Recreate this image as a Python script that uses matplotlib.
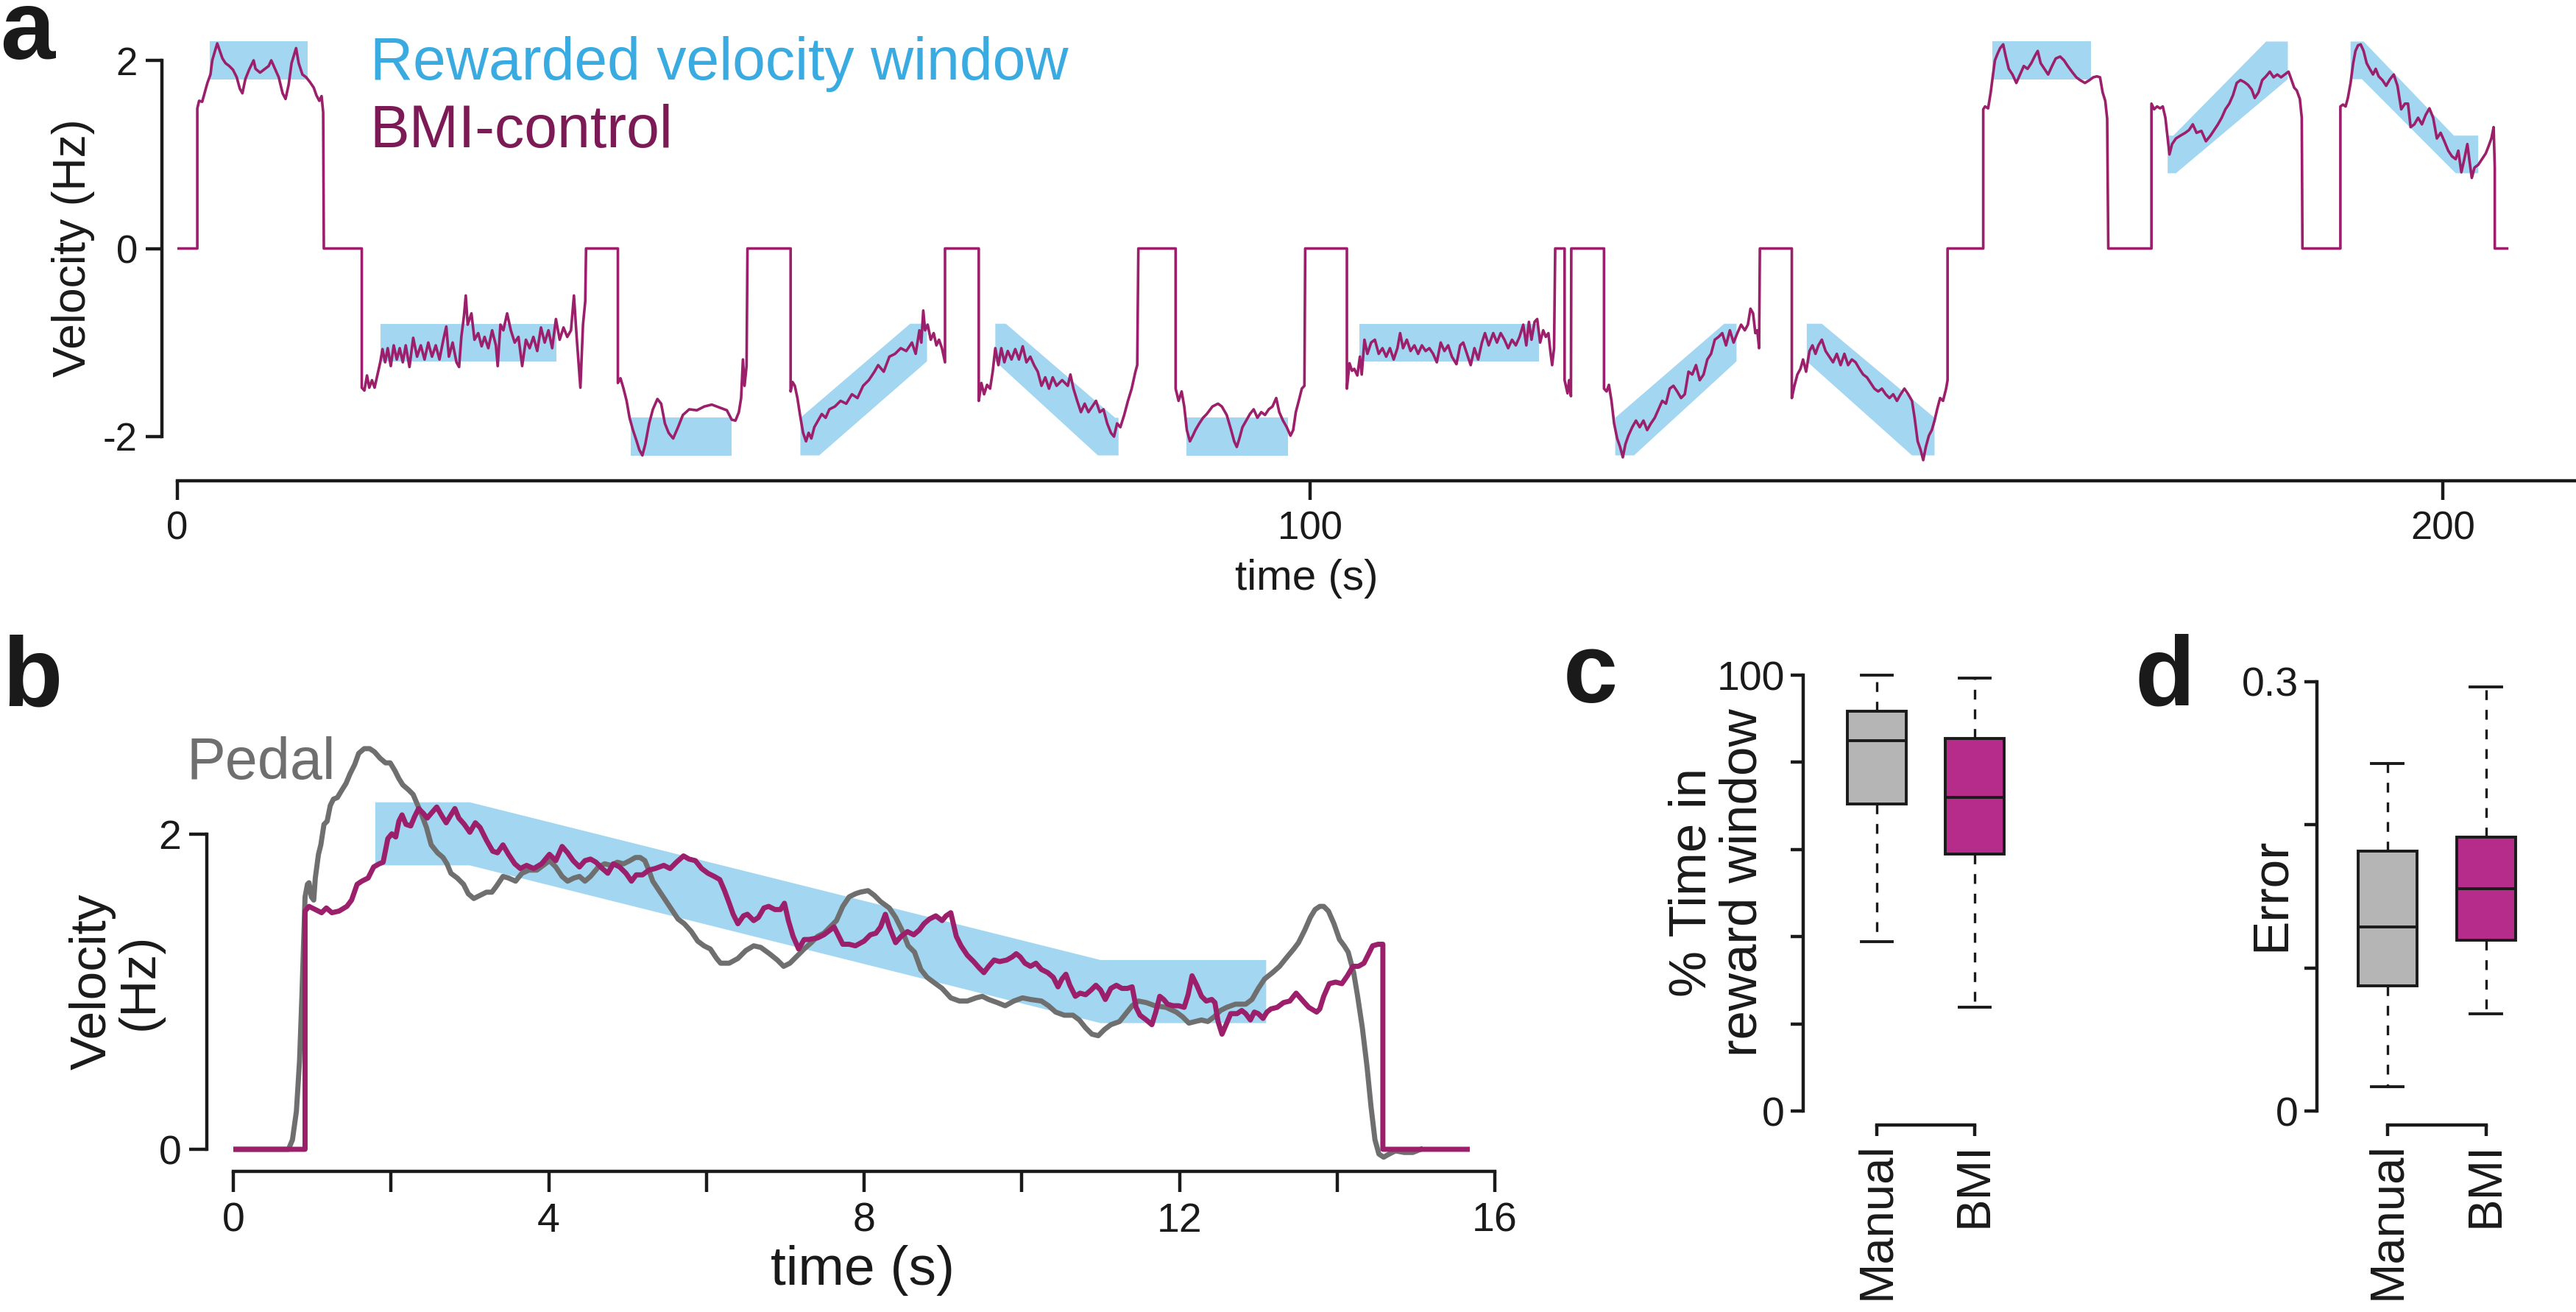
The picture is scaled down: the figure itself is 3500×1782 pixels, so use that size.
import numpy as np
import matplotlib
matplotlib.use("Agg")
import matplotlib.pyplot as plt

plt.rcParams['font.family'] = ['Liberation Sans', 'DejaVu Sans']
plt.rcParams['axes.unicode_minus'] = False

# ---------------- data ----------------
# panel a: BMI-controlled velocity, (time s, velocity Hz)
bmi_a = [
    (0, 0), (1.76, 0),
    (1.76, 1.49), (1.92, 1.57), (2.19, 1.56), (2.42, 1.66), (2.65, 1.76), (2.92, 1.85), (3.08, 2.0), (3.32, 2.10),
    (3.52, 2.18), (3.75, 2.10), (3.98, 2.02), (4.25, 1.97), (4.58, 1.94), (4.91, 1.90), (5.24, 1.82), (5.51, 1.70),
    (5.74, 1.65), (6.0, 1.80), (6.33, 1.90), (6.73, 2.00), (6.90, 1.91), (7.30, 1.87), (7.63, 1.90), (8.06, 1.94),
    (8.29, 2.0), (8.62, 1.91), (8.95, 1.82), (9.29, 1.65), (9.55, 1.59), (9.82, 1.74), (10.08, 1.97), (10.48, 2.13),
    (10.71, 1.97), (11.04, 1.85), (11.37, 1.82), (11.70, 1.77), (12.04, 1.71), (12.27, 1.63), (12.53, 1.57),
    (12.73, 1.62), (12.87, 1.45), (12.93, 0), (16.28, 0),
    (16.28, -1.48), (16.51, -1.51), (16.74, -1.35), (16.94, -1.48), (17.18, -1.40), (17.41, -1.48), (17.67, -1.34),
    (17.91, -1.21), (18.11, -1.07), (18.34, -1.21), (18.57, -1.06), (18.84, -1.25), (19.10, -1.03), (19.37, -1.18),
    (19.63, -1.06), (19.90, -1.21), (20.16, -1.03), (20.49, -1.26), (20.82, -0.95), (21.16, -1.15), (21.49, -1.03),
    (21.82, -1.18), (22.15, -1.0), (22.48, -1.15), (22.81, -1.03), (23.14, -1.18), (23.48, -0.97), (23.74, -0.83),
    (23.97, -1.15), (24.30, -1.0), (24.64, -1.21), (24.87, -1.26), (25.07, -0.94), (25.30, -0.72), (25.46, -0.50),
    (25.63, -0.81), (25.96, -0.69), (26.23, -0.97), (26.56, -0.90), (26.86, -1.04), (27.12, -0.94), (27.45, -1.06),
    (27.79, -0.87), (28.12, -1.03), (28.28, -1.25), (28.52, -0.81), (28.78, -0.87), (29.11, -0.69), (29.44, -0.87),
    (29.78, -1.0), (30.11, -0.94), (30.44, -1.25), (30.77, -0.97), (31.10, -1.06), (31.43, -0.94), (31.77, -1.09),
    (32.10, -0.84), (32.43, -1.0), (32.76, -0.87), (33.09, -1.06), (33.42, -0.75), (33.75, -0.97), (34.09, -0.84),
    (34.42, -0.94), (34.75, -0.87), (35.01, -0.50), (35.25, -0.94), (35.58, -1.48), (35.81, -0.81), (36.01, -0.56),
    (36.08, 0), (38.89, 0),
    (38.89, -1.43), (39.12, -1.38), (39.39, -1.49), (39.66, -1.62), (39.92, -1.80), (40.22, -1.93), (40.55, -2.05),
    (40.78, -2.14), (41.05, -2.20), (41.31, -2.08), (41.65, -1.86), (41.98, -1.71), (42.38, -1.60), (42.71, -1.65),
    (43.04, -1.86), (43.37, -1.96), (43.77, -2.02), (44.20, -1.90), (44.63, -1.77), (45.19, -1.71), (45.86, -1.72),
    (46.52, -1.68), (47.18, -1.66), (47.85, -1.69), (48.51, -1.72), (48.94, -1.82), (49.27, -1.83), (49.57, -1.74),
    (49.77, -1.59), (49.93, -1.18), (50.07, -1.46), (50.25, -1.25), (50.33, 0), (54.14, 0),
    (54.14, -1.52), (54.31, -1.42), (54.51, -1.46), (54.74, -1.59), (54.97, -1.77), (55.24, -1.96), (55.50, -2.05),
    (55.73, -1.96), (55.97, -2.02), (56.23, -1.90), (56.56, -1.83), (56.89, -1.76), (57.23, -1.80), (57.56, -1.71),
    (58.05, -1.68), (58.55, -1.62), (59.05, -1.65), (59.55, -1.55), (60.04, -1.59), (60.54, -1.46), (61.04, -1.40),
    (61.54, -1.31), (61.87, -1.24), (62.36, -1.31), (62.86, -1.15), (63.36, -1.12), (63.86, -1.06), (64.35, -1.09),
    (64.85, -1.0), (65.18, -1.12), (65.51, -0.87), (65.68, -1.0), (65.85, -0.66), (66.01, -0.87), (66.24, -0.81),
    (66.51, -0.97), (66.77, -0.90), (67.01, -1.03), (67.24, -0.97), (67.50, -1.06), (67.77, -1.21), (67.77, 0),
    (70.75, 0),
    (70.75, -1.62), (70.98, -1.43), (71.22, -1.55), (71.48, -1.45), (71.75, -1.49), (71.98, -1.31), (72.21, -1.06),
    (72.48, -1.24), (72.74, -1.06), (73.01, -1.21), (73.31, -1.09), (73.64, -1.18), (73.97, -1.07), (74.30, -1.18),
    (74.63, -1.04), (74.96, -1.21), (75.30, -1.15), (75.63, -1.24), (75.96, -1.31), (76.29, -1.46), (76.62, -1.37),
    (76.95, -1.49), (77.28, -1.37), (77.62, -1.46), (78.11, -1.40), (78.61, -1.46), (78.84, -1.34), (79.11, -1.49),
    (79.44, -1.62), (79.77, -1.74), (80.10, -1.65), (80.43, -1.74), (80.77, -1.68), (81.10, -1.62), (81.43, -1.74),
    (81.76, -1.71), (82.09, -1.86), (82.42, -1.96), (82.69, -2.0), (82.96, -1.86), (83.25, -1.90), (83.59, -1.77),
    (83.92, -1.62), (84.25, -1.49), (84.58, -1.31), (84.74, -1.24), (84.84, 0), (88.13, 0),
    (88.13, -1.49), (88.39, -1.62), (88.66, -1.52), (88.89, -1.68), (89.12, -1.93), (89.39, -2.05), (89.65, -1.99),
    (89.88, -1.93), (90.22, -1.86), (90.55, -1.80), (90.88, -1.76), (91.38, -1.68), (91.87, -1.65), (92.21, -1.68),
    (92.64, -1.77), (93.03, -1.93), (93.30, -2.05), (93.53, -2.11), (93.76, -2.02), (94.03, -1.90), (94.36, -1.83),
    (94.69, -1.76), (95.02, -1.71), (95.35, -1.80), (95.69, -1.74), (96.02, -1.77), (96.35, -1.71), (96.68, -1.68),
    (97.01, -1.59), (97.28, -1.74), (97.61, -1.83), (97.94, -1.90), (98.27, -1.99), (98.51, -1.93), (98.74, -1.74),
    (99.0, -1.62), (99.27, -1.49), (99.50, -1.46), (99.57, 0), (103.25, 0),
    (103.25, -1.49), (103.48, -1.22), (103.7, -1.30), (103.9, -1.28), (104.17, -1.35), (104.40, -1.15),
    (104.56, -1.34), (104.80, -0.97), (105.06, -1.12), (105.39, -1.0), (105.72, -0.97), (106.06, -1.12),
    (106.39, -1.06), (106.72, -1.15), (107.05, -1.06), (107.38, -1.18), (107.71, -1.06), (107.95, -0.90),
    (108.21, -1.06), (108.54, -0.97), (108.87, -1.09), (109.21, -1.03), (109.54, -1.12), (109.87, -1.03),
    (110.20, -1.09), (110.53, -1.06), (110.86, -1.12), (111.19, -1.21), (111.53, -1.0), (111.86, -1.09),
    (112.19, -1.03), (112.52, -1.15), (112.92, -1.23), (113.25, -1.03), (113.52, -1.0), (113.85, -1.12),
    (114.18, -1.24), (114.51, -1.06), (114.84, -1.18), (115.17, -1.0), (115.44, -0.90), (115.77, -1.03),
    (116.17, -0.90), (116.50, -1.0), (116.83, -0.90), (117.16, -0.97), (117.49, -1.06), (117.83, -0.97),
    (118.16, -1.03), (118.49, -0.94), (118.82, -0.81), (119.09, -1.03), (119.32, -0.78), (119.55, -0.97),
    (119.82, -0.78), (120.05, -0.75), (120.31, -1.0), (120.58, -0.87), (120.81, -0.94), (121.04, -0.90),
    (121.21, -1.09), (121.37, -1.24), (121.54, -1.06), (121.64, 0), (122.47, 0),
    (122.47, -1.40), (122.73, -1.54), (122.87, -1.40), (123.03, -1.57), (123.06, 0), (125.95, 0),
    (125.95, -1.49), (126.18, -1.52), (126.38, -1.45), (126.61, -1.62), (126.84, -1.86), (127.11, -2.02),
    (127.37, -2.11), (127.61, -2.22), (127.84, -2.08), (128.10, -1.99), (128.44, -1.90), (128.77, -1.83),
    (129.10, -1.90), (129.43, -1.83), (129.76, -1.93), (130.09, -1.86), (130.43, -1.80), (130.76, -1.71),
    (131.09, -1.62), (131.42, -1.65), (131.75, -1.49), (132.08, -1.46), (132.41, -1.52), (132.75, -1.59),
    (133.08, -1.55), (133.41, -1.31), (133.74, -1.34), (134.07, -1.24), (134.40, -1.40), (134.74, -1.34),
    (135.07, -1.18), (135.40, -1.12), (135.73, -0.97), (136.06, -0.94), (136.39, -0.90), (136.72, -1.03),
    (137.06, -0.87), (137.39, -1.0), (137.72, -0.90), (138.05, -0.81), (138.38, -0.87), (138.65, -0.81),
    (138.88, -0.64), (139.11, -0.69), (139.31, -0.90), (139.48, -0.87), (139.64, -1.06), (139.71, 0), (142.53, 0),
    (142.53, -1.59), (142.76, -1.46), (143.02, -1.34), (143.29, -1.28), (143.52, -1.18), (143.79, -1.31),
    (144.09, -1.09), (144.35, -1.03), (144.62, -1.12), (144.88, -1.03), (145.18, -0.97), (145.51, -1.09),
    (145.84, -1.15), (146.17, -1.21), (146.50, -1.12), (146.84, -1.24), (147.17, -1.12), (147.50, -1.24),
    (147.83, -1.18), (148.16, -1.21), (148.50, -1.28), (148.83, -1.34), (149.16, -1.37), (149.49, -1.43),
    (149.82, -1.49), (150.15, -1.52), (150.48, -1.49), (150.82, -1.55), (151.15, -1.59), (151.48, -1.55),
    (151.81, -1.62), (152.14, -1.55), (152.47, -1.49), (152.81, -1.55), (153.14, -1.62), (153.37, -1.80),
    (153.64, -2.05), (153.90, -2.14), (154.13, -2.25), (154.36, -2.11), (154.63, -1.99), (154.89, -1.93),
    (155.13, -1.83), (155.36, -1.71), (155.62, -1.59), (155.88, -1.62), (156.15, -1.49), (156.28, -1.40),
    (156.28, 0), (159.43, 0),
    (159.43, 1.48), (159.59, 1.51), (159.86, 1.49), (160.09, 1.66), (160.26, 1.82), (160.46, 2.0), (160.69, 2.07),
    (160.92, 2.13), (161.19, 2.17), (161.42, 2.04), (161.68, 1.91), (162.01, 1.85), (162.35, 1.76), (162.68, 1.85),
    (163.01, 1.94), (163.34, 1.91), (163.67, 1.97), (164.0, 2.05), (164.24, 2.10), (164.50, 1.97), (164.83, 1.91),
    (165.16, 1.85), (165.50, 1.94), (165.83, 2.02), (166.22, 2.04), (166.56, 2.0), (166.89, 1.94), (167.32, 1.87),
    (167.65, 1.82), (167.98, 1.79), (168.41, 1.76), (168.81, 1.79), (169.14, 1.82), (169.47, 1.83), (169.74, 1.82),
    (169.97, 1.66), (170.20, 1.57), (170.37, 1.38), (170.47, 0), (174.28, 0),
    (174.28, 1.54), (174.51, 1.48), (174.78, 1.51), (175.04, 1.49), (175.28, 1.51), (175.51, 1.39), (175.71, 1.17),
    (175.87, 1.0), (176.10, 1.11), (176.44, 1.17), (176.84, 1.20), (177.27, 1.23), (177.60, 1.26), (177.93, 1.32),
    (178.26, 1.23), (178.69, 1.25), (179.09, 1.14), (179.49, 1.20), (179.82, 1.26), (180.15, 1.32), (180.48, 1.39),
    (180.81, 1.48), (181.15, 1.54), (181.48, 1.63), (181.81, 1.76), (182.14, 1.79), (182.47, 1.77), (182.80, 1.74),
    (183.13, 1.69), (183.40, 1.60), (183.73, 1.66), (184.06, 1.79), (184.39, 1.83), (184.73, 1.88), (185.06, 1.82),
    (185.39, 1.85), (185.72, 1.82), (186.05, 1.85), (186.38, 1.88), (186.65, 1.79), (186.88, 1.71), (187.11, 1.68),
    (187.38, 1.59), (187.55, 1.39), (187.61, 0), (190.96, 0),
    (190.96, 1.51), (191.19, 1.53), (191.42, 1.51), (191.62, 1.60), (191.86, 1.76), (192.09, 1.97), (192.29, 2.10),
    (192.52, 2.16), (192.75, 2.17), (193.01, 2.10), (193.28, 1.97), (193.55, 1.91), (193.84, 1.85), (194.08, 1.91),
    (194.34, 1.83), (194.67, 1.79), (195.0, 1.73), (195.34, 1.80), (195.67, 1.85), (196.0, 1.73), (196.33, 1.48),
    (196.66, 1.54), (196.93, 1.54), (197.16, 1.29), (197.49, 1.32), (197.82, 1.39), (198.16, 1.32), (198.49, 1.42),
    (198.82, 1.49), (199.15, 1.39), (199.48, 1.17), (199.81, 1.23), (200.14, 1.14), (200.48, 1.04), (200.81, 0.98),
    (201.14, 0.95), (201.37, 1.04), (201.64, 0.81), (201.90, 0.95), (202.17, 1.11), (202.37, 0.92), (202.56, 0.75),
    (202.80, 0.86), (203.13, 0.89), (203.46, 0.95), (203.79, 1.01), (204.02, 1.08), (204.29, 1.17), (204.49, 1.29),
    (204.59, 0.86), (204.59, 0), (205.68, 0),
]

# panel a: rewarded velocity windows (start, end, start level, end level, flat parts of upper/lower edge)
win_t0 = [2.85, 17.94, 40.05, 55.0, 72.21, 89.06, 104.33, 126.94, 143.85, 160.26, 175.71, 191.86]
win_t1 = [11.47, 33.49, 48.94, 66.18, 83.09, 98.07, 120.21, 137.65, 155.13, 168.91, 186.32, 203.13]
win_v0 = [2, -1, -2, -2, -1, -2, -1, -2, -1, 2, 1, 2]
win_v1 = [2, -1, -2, -1, -2, -2, -1, -1, -2, 2, 2, 1]
win_fs_up = [0, 0, 0, 0, 0.93, 0, 0, 0, 1.33, 0, 0.5, 1.16]
win_fe_up = [0, 0, 0, 1.49, 0.3, 0, 0, 1.09, 0, 0, 1.92, 2.15]
win_fs_lo = [0, 0, 0, 1.66, 0, 0, 0, 1.66, 0, 0, 0.73, 1.0]
win_fe_lo = [0, 0, 0, 0, 1.82, 0, 0, 0, 1.99, 0, 0, 1.99]
win_tol = 0.2

# panel b: single trial
bmi_b = [
    (0, 0), (0.91, 0), (0.91, 1.51), (0.96, 1.54), (1.04, 1.52), (1.12, 1.50), (1.18, 1.53), (1.25, 1.50),
    (1.34, 1.51), (1.44, 1.54), (1.50, 1.58), (1.57, 1.68), (1.63, 1.70), (1.71, 1.72), (1.78, 1.79), (1.85, 1.81),
    (1.90, 1.82), (1.96, 1.97), (2.01, 2.00), (2.06, 1.98), (2.10, 2.08), (2.14, 2.12), (2.19, 2.06), (2.25, 2.05),
    (2.30, 2.11), (2.35, 2.16), (2.41, 2.13), (2.46, 2.10), (2.51, 2.13), (2.58, 2.17), (2.65, 2.11), (2.70, 2.07),
    (2.76, 2.12), (2.81, 2.16), (2.86, 2.10), (2.93, 2.06), (3.00, 2.01), (3.07, 2.07), (3.13, 2.04), (3.21, 1.96),
    (3.29, 1.89), (3.35, 1.88), (3.42, 1.93), (3.49, 1.87), (3.57, 1.81), (3.64, 1.78), (3.72, 1.80), (3.81, 1.78),
    (3.91, 1.81), (4.01, 1.87), (4.09, 1.83), (4.17, 1.92), (4.24, 1.88), (4.31, 1.83), (4.39, 1.79), (4.46, 1.83),
    (4.53, 1.84), (4.60, 1.82), (4.68, 1.78), (4.75, 1.75), (4.82, 1.81), (4.90, 1.79), (4.98, 1.75), (5.05, 1.70),
    (5.11, 1.74), (5.19, 1.74), (5.27, 1.77), (5.35, 1.78), (5.46, 1.80), (5.54, 1.78), (5.62, 1.82), (5.71, 1.86),
    (5.78, 1.84), (5.86, 1.83), (5.94, 1.78), (6.02, 1.75), (6.10, 1.73), (6.17, 1.71), (6.23, 1.64), (6.29, 1.56),
    (6.34, 1.49), (6.40, 1.43), (6.47, 1.48), (6.52, 1.49), (6.60, 1.45), (6.66, 1.47), (6.73, 1.53), (6.79, 1.54),
    (6.87, 1.52), (6.94, 1.52), (6.99, 1.56), (7.04, 1.45), (7.10, 1.35), (7.17, 1.27), (7.24, 1.33), (7.30, 1.33),
    (7.41, 1.34), (7.49, 1.36), (7.57, 1.39), (7.62, 1.41), (7.68, 1.35), (7.73, 1.30), (7.81, 1.30), (7.89, 1.29),
    (8.0, 1.32), (8.08, 1.36), (8.15, 1.37), (8.21, 1.41), (8.27, 1.49), (8.32, 1.41), (8.40, 1.31), (8.47, 1.35),
    (8.55, 1.38), (8.63, 1.36), (8.70, 1.39), (8.76, 1.43), (8.83, 1.46), (8.91, 1.48), (8.99, 1.45), (9.04, 1.48),
    (9.10, 1.50), (9.17, 1.35), (9.23, 1.29), (9.31, 1.23), (9.39, 1.19), (9.46, 1.15), (9.52, 1.12), (9.58, 1.16),
    (9.65, 1.20), (9.72, 1.19), (9.81, 1.20), (9.88, 1.22), (9.93, 1.24), (9.98, 1.22), (10.04, 1.18), (10.11, 1.16),
    (10.18, 1.18), (10.25, 1.14), (10.33, 1.12), (10.40, 1.09), (10.46, 1.03), (10.51, 1.08), (10.56, 1.11),
    (10.61, 1.04), (10.68, 0.97), (10.74, 0.99), (10.81, 0.98), (10.88, 1.01), (10.94, 1.04), (11.00, 1.01),
    (11.06, 0.95), (11.13, 1.02), (11.20, 1.04), (11.27, 1.02), (11.34, 1.02), (11.40, 1.03), (11.45, 0.90),
    (11.50, 0.85), (11.58, 0.82), (11.65, 0.79), (11.70, 0.87), (11.75, 0.97), (11.80, 0.95), (11.85, 0.92),
    (11.92, 0.91), (11.99, 0.91), (12.06, 0.90), (12.11, 0.98), (12.16, 1.10), (12.22, 1.04), (12.28, 0.97),
    (12.34, 0.94), (12.41, 0.95), (12.45, 0.93), (12.49, 0.81), (12.54, 0.73), (12.60, 0.80), (12.65, 0.86),
    (12.73, 0.86), (12.79, 0.88), (12.84, 0.86), (12.90, 0.82), (12.95, 0.87), (13.00, 0.86), (13.06, 0.83),
    (13.11, 0.87), (13.16, 0.89), (13.24, 0.90), (13.32, 0.93), (13.40, 0.94), (13.48, 0.99), (13.55, 0.95),
    (13.64, 0.90), (13.74, 0.87), (13.78, 0.89), (13.83, 0.97), (13.90, 1.05), (13.98, 1.06), (14.06, 1.05),
    (14.13, 1.10), (14.20, 1.16), (14.27, 1.16), (14.34, 1.18), (14.39, 1.23), (14.45, 1.29), (14.52, 1.30),
    (14.58, 1.30), (14.58, 0), (15.65, 0),
]
pedal_b = [
    (0, 0), (0.70, 0), (0.75, 0.06), (0.80, 0.24), (0.84, 0.56), (0.87, 0.97), (0.89, 1.29), (0.91, 1.60),
    (0.94, 1.68), (0.96, 1.69), (0.99, 1.60), (1.02, 1.58), (1.04, 1.72), (1.08, 1.87), (1.11, 1.93), (1.15, 2.06),
    (1.19, 2.08), (1.23, 2.18), (1.27, 2.22), (1.32, 2.23), (1.38, 2.28), (1.43, 2.32), (1.48, 2.38), (1.54, 2.44),
    (1.59, 2.51), (1.66, 2.54), (1.73, 2.54), (1.79, 2.52), (1.86, 2.48), (1.93, 2.45), (1.99, 2.45), (2.05, 2.40),
    (2.10, 2.35), (2.15, 2.31), (2.22, 2.28), (2.28, 2.25), (2.34, 2.18), (2.39, 2.12), (2.45, 2.04), (2.51, 1.93),
    (2.59, 1.88), (2.66, 1.85), (2.71, 1.81), (2.76, 1.75), (2.84, 1.72), (2.92, 1.68), (2.98, 1.62), (3.05, 1.59),
    (3.13, 1.61), (3.21, 1.63), (3.28, 1.63), (3.34, 1.67), (3.42, 1.73), (3.49, 1.72), (3.58, 1.70), (3.66, 1.75),
    (3.75, 1.77), (3.85, 1.77), (3.93, 1.80), (4.01, 1.83), (4.09, 1.79), (4.17, 1.73), (4.24, 1.70), (4.32, 1.72),
    (4.39, 1.73), (4.46, 1.70), (4.53, 1.73), (4.63, 1.79), (4.71, 1.81), (4.79, 1.80), (4.87, 1.82), (4.95, 1.81),
    (5.03, 1.83), (5.10, 1.85), (5.16, 1.85), (5.22, 1.83), (5.27, 1.77), (5.32, 1.70), (5.40, 1.64), (5.48, 1.58),
    (5.56, 1.52), (5.64, 1.46), (5.72, 1.43), (5.81, 1.38), (5.89, 1.32), (5.97, 1.29), (6.05, 1.27), (6.13, 1.21),
    (6.18, 1.18), (6.29, 1.18), (6.40, 1.21), (6.50, 1.26), (6.60, 1.29), (6.69, 1.28), (6.80, 1.24), (6.90, 1.20),
    (6.98, 1.16), (7.06, 1.18), (7.14, 1.22), (7.24, 1.27), (7.33, 1.31), (7.41, 1.35), (7.49, 1.37), (7.57, 1.41),
    (7.65, 1.45), (7.73, 1.54), (7.81, 1.60), (7.89, 1.62), (7.95, 1.63), (8.05, 1.64), (8.13, 1.61), (8.21, 1.57),
    (8.32, 1.53), (8.40, 1.47), (8.48, 1.39), (8.56, 1.29), (8.64, 1.25), (8.72, 1.14), (8.80, 1.09), (8.88, 1.06),
    (8.99, 1.02), (9.10, 0.96), (9.21, 0.94), (9.31, 0.94), (9.42, 0.96), (9.50, 0.97), (9.58, 0.95), (9.69, 0.93),
    (9.79, 0.91), (9.90, 0.94), (10.01, 0.96), (10.11, 0.95), (10.25, 0.94), (10.34, 0.91), (10.43, 0.87),
    (10.54, 0.85), (10.65, 0.85), (10.73, 0.82), (10.81, 0.77), (10.89, 0.73), (10.97, 0.72), (11.05, 0.76),
    (11.13, 0.79), (11.24, 0.81), (11.32, 0.86), (11.40, 0.91), (11.48, 0.94), (11.58, 0.93), (11.69, 0.91),
    (11.83, 0.90), (11.96, 0.87), (12.04, 0.84), (12.12, 0.80), (12.20, 0.81), (12.28, 0.82), (12.36, 0.81),
    (12.44, 0.84), (12.52, 0.88), (12.60, 0.90), (12.71, 0.92), (12.84, 0.92), (12.92, 0.95), (13.00, 1.02),
    (13.08, 1.08), (13.18, 1.12), (13.27, 1.16), (13.35, 1.21), (13.45, 1.27), (13.51, 1.31), (13.59, 1.39),
    (13.66, 1.47), (13.72, 1.52), (13.78, 1.54), (13.83, 1.54), (13.89, 1.51), (13.96, 1.43), (14.03, 1.33),
    (14.09, 1.29), (14.14, 1.25), (14.21, 1.12), (14.26, 0.97), (14.32, 0.77), (14.38, 0.52), (14.43, 0.27),
    (14.48, 0.06), (14.53, -0.03), (14.59, -0.05), (14.66, -0.03), (14.74, -0.01), (14.85, -0.02), (14.96, -0.02),
    (15.06, 0),
]
# panel b window: start, end, levels, flat durations at start and end
b_win = dict(t0=1.8, t1=13.1, v0=2, v1=1, flat_start=1.2, flat_end=2.1)

# panels c, d: box plot summaries
groups = ['Manual', 'BMI']
c_whislo = [38.8, 23.9]
c_q1 = [70.4, 58.9]
c_med = [85.0, 71.9]
c_q3 = [91.8, 85.4]
c_whishi = [100.0, 99.3]
d_whislo = [0.0169, 0.068]
d_q1 = [0.0876, 0.1194]
d_med = [0.1286, 0.1552]
d_q3 = [0.1815, 0.1916]
d_whishi = [0.243, 0.2963]

# ---------------- style ----------------
BLUE_FILL = '#A3D7F1'
BLUE_TEXT = '#3AABE1'
BMI_LINE = '#9B1F6A'
BMI_TEXT = '#7C1A55'
PEDAL = '#6F6F6F'
BOX_GREY = '#B4B5B4'
BOX_MAG = '#B52C8A'
INK = '#1A1A1A'
SPINE_LW = 3.2

W, H = 3500, 1782
fig = plt.figure(figsize=(W / 100, H / 100), dpi=100)


def px_axes(left, top, right, bottom):
    return fig.add_axes([left / W, 1 - bottom / H, (right - left) / W, (bottom - top) / H])


def style_axes(ax, labelsize):
    for s in ['top', 'right']:
        ax.spines[s].set_visible(False)
    for s in ['left', 'bottom']:
        ax.spines[s].set_linewidth(SPINE_LW)
        ax.spines[s].set_color(INK)
    ax.tick_params(which='both', direction='out', width=SPINE_LW, color=INK,
                   labelsize=labelsize, labelcolor=INK)


def window_outline(t0, t1, v0, v1, fs_up, fe_up, fs_lo, fe_lo, tol):
    xs = [t0, t0 + fs_up, t1 - fe_up, t1, t1, t1 - fe_lo, t0 + fs_lo, t0]
    ys = [v0 + tol, v0 + tol, v1 + tol, v1 + tol, v1 - tol, v1 - tol, v0 - tol, v0 - tol]
    return xs, ys


# ---------------- panel a ----------------
axa = px_axes(241, 18, 3500, 653)
style_axes(axa, 38)
for i in range(len(win_t0)):
    xs, ys = window_outline(win_t0[i], win_t1[i], win_v0[i], win_v1[i],
                            win_fs_up[i], win_fe_up[i], win_fs_lo[i], win_fe_lo[i], win_tol)
    axa.fill(xs, ys, color=BLUE_FILL, lw=0, zorder=1)
ta, va = np.array(bmi_a).T
axa.plot(ta, va, color=BMI_LINE, lw=2.6, zorder=2, solid_joinstyle='round')
axa.set_xlim(0, 3259 / 15.39)
axa.set_ylim(-(653 - 337.5) / 127.75, (337.5 - 18) / 127.75)
axa.spines['left'].set_bounds(-2, 2)
axa.spines['left'].set_position(('outward', 15))
axa.set_yticks([-2, 0, 2])
axa.set_xticks([0, 100, 200])
axa.tick_params(axis='y', length=16, pad=8)
axa.tick_params(axis='x', length=19, pad=10)
axa.set_ylabel('Velocity (Hz)', fontsize=45, color=INK)
axa.yaxis.label.set_va('center')
axa.yaxis.set_label_coords(-0.0433, 0.4976)
axa.set_xlabel('time (s)', fontsize=42, color=INK)
axa.xaxis.label.set_va('center')
axa.xaxis.set_label_coords(0.4707, -0.2094)
axa.text(17.0, 1.80, 'Rewarded velocity window', color=BLUE_TEXT, fontsize=58, va='baseline')
axa.text(17.0, 1.076, 'BMI-control', color=BMI_TEXT, fontsize=58, va='baseline')

# ---------------- panel b ----------------
axb = px_axes(317, 1004, 2031, 1591)
style_axes(axb, 40)
bt0, bt1 = b_win['t0'], b_win['t1']
xs, ys = window_outline(bt0, bt1, b_win['v0'], b_win['v1'], b_win['flat_start'], b_win['flat_end'],
                        b_win['flat_start'], b_win['flat_end'], win_tol)
axb.fill(xs, ys, color=BLUE_FILL, lw=0, zorder=1)
tp, vp = np.array(pedal_b).T
tb, vb = np.array(bmi_b).T
axb.plot(tp, vp, color=PEDAL, lw=5, zorder=2, solid_joinstyle='round')
axb.plot(tb, vb, color=BMI_LINE, lw=5, zorder=3, solid_joinstyle='round')
axb.set_xlim(0, 16)
axb.set_ylim(-0.14, 2.6)
axb.spines['left'].set_bounds(0, 2)
axb.spines['left'].set_position(('outward', 26))
axb.spines['bottom'].set_bounds(0, 16)
axb.set_yticks([0, 2])
axb.set_xticks([0, 4, 8, 12, 16])
axb.set_xticks([2, 6, 10, 14], minor=True)
axb.tick_params(axis='y', length=17, pad=8)
axb.tick_params(axis='x', which='both', length=20, pad=10)
axb.set_ylabel('Velocity\n(Hz)', fontsize=50, color=INK, linespacing=1.0)
axb.yaxis.label.set_va('center')
axb.yaxis.set_label_coords(-0.0928, 0.4395)
axb.set_xlabel('time (s)', fontsize=54, color=INK)
axb.xaxis.label.set_va('center')
axb.xaxis.set_label_coords(0.4988, -0.2283)
axb.text(-0.59, 2.35, 'Pedal', color=PEDAL, fontsize=57, va='baseline')


# ---------------- panels c, d ----------------
def box_panel(ax, whislo, q1, med, q3, whishi, ymax, yticks, yticklabels):
    style_axes(ax, 40)
    stats = []
    for i, g in enumerate(groups):
        stats.append(dict(label=g, whislo=whislo[i], q1=q1[i], med=med[i], q3=q3[i],
                          whishi=whishi[i], fliers=[]))
    bp = ax.bxp(stats, positions=[1, 2], widths=0.6, capwidths=0.32, patch_artist=True,
                showfliers=False,
                boxprops=dict(linewidth=2.8, edgecolor=INK),
                medianprops=dict(color=INK, linewidth=2.8),
                whiskerprops=dict(color=INK, linewidth=2.4, linestyle=(0, (4, 4))),
                capprops=dict(color=INK, linewidth=2.8))
    for patch, fc in zip(bp['boxes'], [BOX_GREY, BOX_MAG]):
        patch.set_facecolor(fc)
    for k in bp:
        for art in bp[k]:
            art.set_clip_on(False)
    ax.set_ylim(0, ymax)
    ax.set_yticks(yticks)
    ax.set_yticklabels(yticklabels)
    ax.spines['bottom'].set_bounds(1, 2)
    ax.spines['bottom'].set_position(('outward', 14))
    ax.set_xticks([1, 2])
    ax.set_xticklabels(groups, rotation=90, va='top', fontsize=47)
    ax.tick_params(axis='y', length=12, pad=6)
    ax.tick_params(axis='x', length=11, pad=5)


axc = px_axes(2450, 917, 2763, 1509)
box_panel(axc, c_whislo, c_q1, c_med, c_q3, c_whishi, 100,
          [0, 20, 40, 60, 80, 100], ['0', '', '', '', '', '100'])
axc.set_xlim(0.25, 2.6)
axc.set_ylabel('% Time in\nreward window', fontsize=51, color=INK, linespacing=1.05)
axc.yaxis.label.set_va('center')
axc.yaxis.set_label_coords(-0.371, 0.525)

axd = px_axes(3148, 926, 3458, 1509)
box_panel(axd, d_whislo, d_q1, d_med, d_q3, d_whishi, 0.3,
          [0, 0.1, 0.2, 0.3], ['0', '', '', '0.3'])
axd.set_xlim(0.284, 2.6)
axd.set_ylabel('Error', fontsize=50, color=INK)
axd.yaxis.label.set_va('center')
axd.yaxis.set_label_coords(-0.2, 0.504)

# ---------------- panel letters ----------------
for letter, x, y in [('a', 0, 80), ('b', 3, 958), ('c', 2124, 954), ('d', 2901, 957)]:
    fig.text(x / W, 1 - y / H, letter, fontsize=96, fontweight='bold', color=INK, va='baseline', ha='left')

fig.savefig('out.png', dpi=100)
